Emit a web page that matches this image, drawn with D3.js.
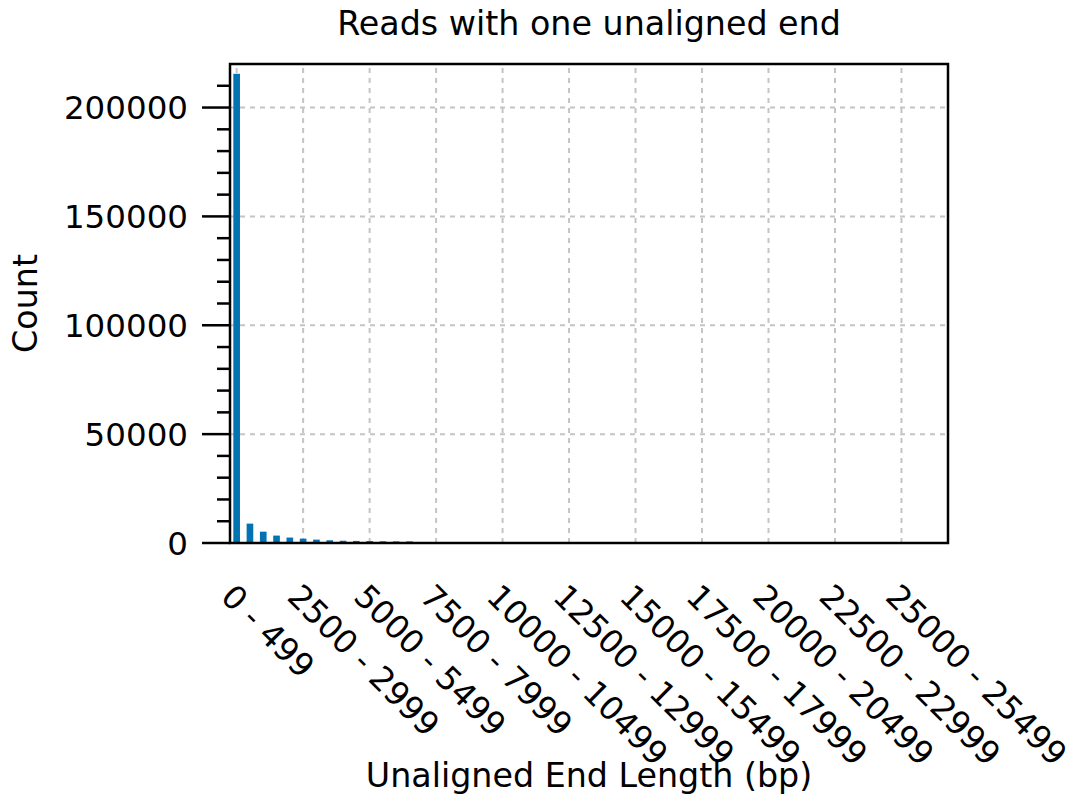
<!DOCTYPE html>
<html>
<head>
<meta charset="utf-8">
<script src="https://cdn.jsdelivr.net/npm/d3@7"></script>
<style>
  body { margin: 0; background: #fff; }
  svg text { font-family: "DejaVu Sans", sans-serif; fill: #000; }
</style>
</head>
<body>
<svg id="chart"></svg>
<script>
// bins of unaligned end length (bp)
const categories = [
    "0 - 499", "500 - 999", "1000 - 1499", "1500 - 1999", "2000 - 2499",
    "2500 - 2999", "3000 - 3499", "3500 - 3999", "4000 - 4499", "4500 - 4999",
    "5000 - 5499", "5500 - 5999", "6000 - 6499", "6500 - 6999", "7000 - 7499",
    "7500 - 7999", "8000 - 8499", "8500 - 8999", "9000 - 9499", "9500 - 9999",
    "10000 - 10499", "10500 - 10999", "11000 - 11499", "11500 - 11999", "12000 - 12499",
    "12500 - 12999", "13000 - 13499", "13500 - 13999", "14000 - 14499", "14500 - 14999",
    "15000 - 15499", "15500 - 15999", "16000 - 16499", "16500 - 16999", "17000 - 17499",
    "17500 - 17999", "18000 - 18499", "18500 - 18999", "19000 - 19499", "19500 - 19999",
    "20000 - 20499", "20500 - 20999", "21000 - 21499", "21500 - 21999", "22000 - 22499",
    "22500 - 22999", "23000 - 23499", "23500 - 23999", "24000 - 24499", "24500 - 24999",
    "25000 - 25499", "25500 - 25999", "26000 - 26499", "26500 - 26999"
];
const counts = [
    215500, 8900, 5200, 3400, 2500, 2000, 1550, 1250, 1050, 950,
    900, 800, 750, 750, 0, 0, 0, 0, 0, 0,
    0, 0, 0, 0, 0, 0, 0, 0, 0, 0,
    0, 0, 0, 0, 0, 0, 0, 0, 0, 0,
    0, 0, 0, 0, 0, 0, 0, 0, 0, 0,
    0, 0, 0, 0
];
// labelled bins on the x axis
const xTickLabels = ["0 - 499", "2500 - 2999", "5000 - 5499", "7500 - 7999", "10000 - 10499",
    "12500 - 12999", "15000 - 15499", "17500 - 17999", "20000 - 20499", "22500 - 22999",
    "25000 - 25499"];
const yMajorTicks = [0, 50000, 100000, 150000, 200000];
const yMinorTicks = [10000, 20000, 30000, 40000, 60000, 70000, 80000, 90000, 110000, 120000,
    130000, 140000, 160000, 170000, 180000, 190000, 210000];

const width = 1069, height = 807;
const margin = {top: 64, right: 121, bottom: 264, left: 230};
const barColor = "#0173b2";
const gridColor = "#c4c4c4";

const svg = d3.select("#chart").attr("width", width).attr("height", height);

const x = d3.scaleBand()
    .domain(categories)
    .range([margin.left, width - margin.right])
    .paddingInner(0.5)
    .paddingOuter(0.25);

const y = d3.scaleLinear()
    .domain([0, 220000])
    .range([height - margin.bottom, margin.top]);

const xc = d => x(d) + x.bandwidth() / 2;

// grid
svg.append("g").selectAll("line.vg")
    .data(xTickLabels)
    .join("line")
    .attr("x1", d => xc(d)).attr("x2", d => xc(d))
    .attr("y1", y(0)).attr("y2", margin.top)
    .attr("stroke", gridColor).attr("stroke-width", 2)
    .attr("stroke-dasharray", "5,5");

svg.append("g").selectAll("line.hg")
    .data(yMajorTicks)
    .join("line")
    .attr("x1", margin.left).attr("x2", width - margin.right)
    .attr("y1", d => y(d)).attr("y2", d => y(d))
    .attr("stroke", gridColor).attr("stroke-width", 2)
    .attr("stroke-dasharray", "5,5");

// bars
svg.append("g").selectAll("rect")
    .data(categories.map((c, i) => ({c: c, v: counts[i]})))
    .join("rect")
    .attr("x", d => x(d.c))
    .attr("width", x.bandwidth())
    .attr("y", d => y(d.v))
    .attr("height", d => y(0) - y(d.v))
    .attr("fill", barColor);

// y axis ticks
const yAxis = svg.append("g").attr("transform", `translate(${margin.left},0)`);
yAxis.selectAll("line.major")
    .data(yMajorTicks)
    .join("line")
    .attr("x1", -28).attr("x2", 0)
    .attr("y1", d => y(d)).attr("y2", d => y(d))
    .attr("stroke", "#000").attr("stroke-width", 2.5);
yAxis.selectAll("line.minor")
    .data(yMinorTicks)
    .join("line")
    .attr("x1", -13).attr("x2", 0)
    .attr("y1", d => y(d)).attr("y2", d => y(d))
    .attr("stroke", "#000").attr("stroke-width", 2.5);
yAxis.selectAll("text")
    .data(yMajorTicks)
    .join("text")
    .attr("x", -42)
    .attr("y", d => y(d))
    .attr("dy", "0.36em")
    .attr("text-anchor", "end")
    .attr("font-size", 32.5)
    .text(d => d);

// x tick labels, rotated
svg.append("g").selectAll("text")
    .data(xTickLabels)
    .join("text")
    .attr("transform", d => `translate(${xc(d)},${y(0) + 38}) rotate(45)`)
    .attr("dy", "0.76em")
    .attr("text-anchor", "start")
    .attr("font-size", 32.5)
    .text(d => d);

// frame
svg.append("rect")
    .attr("x", margin.left).attr("y", margin.top)
    .attr("width", width - margin.left - margin.right)
    .attr("height", height - margin.top - margin.bottom)
    .attr("fill", "none").attr("stroke", "#000").attr("stroke-width", 2.5);

// titles
svg.append("text")
    .attr("x", (margin.left + width - margin.right) / 2)
    .attr("y", 35)
    .attr("text-anchor", "middle")
    .attr("font-size", 33.3)
    .text("Reads with one unaligned end");

svg.append("text")
    .attr("x", (margin.left + width - margin.right) / 2)
    .attr("y", 787)
    .attr("text-anchor", "middle")
    .attr("font-size", 33.3)
    .text("Unaligned End Length (bp)");

svg.append("text")
    .attr("transform", `translate(37,${(margin.top + height - margin.bottom) / 2}) rotate(-90)`)
    .attr("text-anchor", "middle")
    .attr("font-size", 33.3)
    .text("Count");
</script>
</body>
</html>
